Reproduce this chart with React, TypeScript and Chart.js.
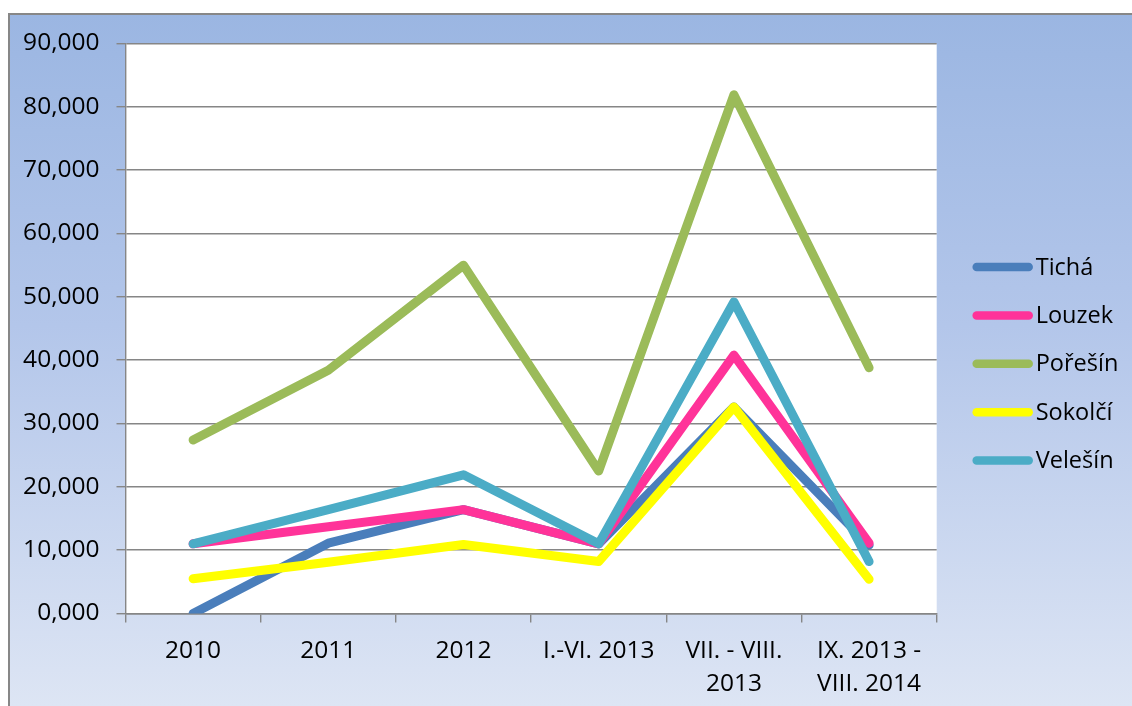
import React, { useEffect, useRef } from "react";
import { Chart, registerables } from "chart.js";

Chart.register(...registerables);

const categories: (string | string[])[] = [
  "2010",
  "2011",
  "2012",
  "I.-VI. 2013",
  ["VII. - VIII.", "2013"],
  ["IX. 2013 -", "VIII. 2014"],
];

const yTickLabels = ["0,000", "10,000", "20,000", "30,000", "40,000", "50,000", "60,000", "70,000", "80,000", "90,000"];

const seriesNames = ["Tichá", "Louzek", "Pořešín", "Sokolčí", "Velešín"];
const ticha = [0, 11.1, 16.4, 11, 32.6, 10.8];
const louzek = [11, 13.7, 16.4, 11, 40.8, 11.1];
const poresin = [27.4, 38.4, 55, 22.5, 81.9, 38.8];
const sokolci = [5.5, 8.1, 10.9, 8.2, 32.6, 5.4];
const velesin = [11, 16.4, 21.9, 11, 49.2, 8.2];
const seriesValues = [ticha, louzek, poresin, sokolci, velesin];
const seriesColors = ["#4a7ebb", "#ff3399", "#9bbb59", "#ffff00", "#4bacc6"];

const FONT = "'Open Sans', 'Noto Sans', sans-serif";

export default function App() {
  const ref = useRef<HTMLCanvasElement | null>(null);

  useEffect(() => {
    if (!ref.current) return;
    const plotBg = {
      id: "plotBg",
      beforeDraw(chart: any) {
        const { ctx, chartArea } = chart;
        ctx.save();
        ctx.fillStyle = "#ffffff";
        ctx.fillRect(chartArea.left, chartArea.top, chartArea.right - chartArea.left, chartArea.bottom - chartArea.top);
        ctx.restore();
      },
    };
    const customLegend = {
      id: "customLegend",
      afterDraw(chart: any) {
        const { ctx, chartArea } = chart;
        ctx.save();
        const x0 = chartArea.right + 40;
        const x1 = chartArea.right + 92;
        const tx = chartArea.right + 99;
        chart.data.datasets.forEach((ds: any, i: number) => {
          const y = 267 + i * 48.4;
          ctx.strokeStyle = ds.borderColor;
          ctx.lineWidth = 8.5;
          ctx.lineCap = "round";
          ctx.beginPath();
          ctx.moveTo(x0, y);
          ctx.lineTo(x1, y);
          ctx.stroke();
          ctx.fillStyle = "#000000";
          ctx.font = `23.5px ${FONT}`;
          ctx.textBaseline = "middle";
          ctx.textAlign = "left";
          ctx.fillText(ds.label, tx, y + 1);
        });
        ctx.restore();
      },
    };

    const chart = new Chart(ref.current, {
      type: "line",
      data: {
        labels: categories,
        datasets: seriesNames.map((name, i) => ({
          label: name,
          data: seriesValues[i],
          borderColor: seriesColors[i],
          backgroundColor: seriesColors[i],
          borderWidth: 9,
          borderCapStyle: "round",
          borderJoinStyle: "round",
          pointRadius: 0,
          pointHoverRadius: 0,
          tension: 0,
          fill: false,
          order: seriesNames.length - i,
        })),
      },
      options: {
        responsive: false,
        animation: false,
        events: [],
        layout: { padding: { top: 43.5, left: 0, right: 195.3, bottom: 0 } },
        plugins: {
          legend: { display: false },
          tooltip: { enabled: false },
          title: { display: false },
        },
        scales: {
          x: {
            type: "category",
            offset: true,
            afterFit(scale: any) {
              scale.height = 92.5;
            },
            grid: {
              offset: true,
              drawOnChartArea: false,
              drawTicks: true,
              tickLength: 9,
              color: "#868686",
              lineWidth: 1.4,
            },
            border: { display: true, color: "#868686", width: 1.4 },
            ticks: {
              color: "#000000",
              font: { family: FONT, size: 24.5, lineHeight: 1.35 },
              padding: 12,
              maxRotation: 0,
              autoSkip: false,
            },
          },
          y: {
            min: 0,
            max: 90,
            afterFit(scale: any) {
              scale.width = 125.5;
            },
            grid: {
              drawOnChartArea: true,
              drawTicks: true,
              tickLength: 9,
              color: "#868686",
              lineWidth: 1.4,
            },
            border: { display: true, color: "#868686", width: 1.4 },
            ticks: {
              stepSize: 10,
              color: "#000000",
              font: { family: FONT, size: 24.5 },
              padding: 17,
              callback: (_v: any, idx: number) => yTickLabels[idx],
            },
          },
        },
      },
      plugins: [plotBg, customLegend],
    } as any);
    return () => chart.destroy();
  }, []);

  return (
    <>
      <div
        style={{
          position: "fixed",
          left: 8,
          top: 13,
          right: 0,
          bottom: 0,
          borderTop: "2px solid #878787",
          borderLeft: "2px solid #878787",
          background: "linear-gradient(to bottom, #9bb6e2 0%, #b3c6ea 45%, #dde5f4 100%)",
        }}
      />
      <canvas
        ref={ref}
        width={1132}
        height={706}
        style={{ position: "fixed", left: 0, top: 0, width: 1132, height: 706 }}
      />
    </>
  );
}
